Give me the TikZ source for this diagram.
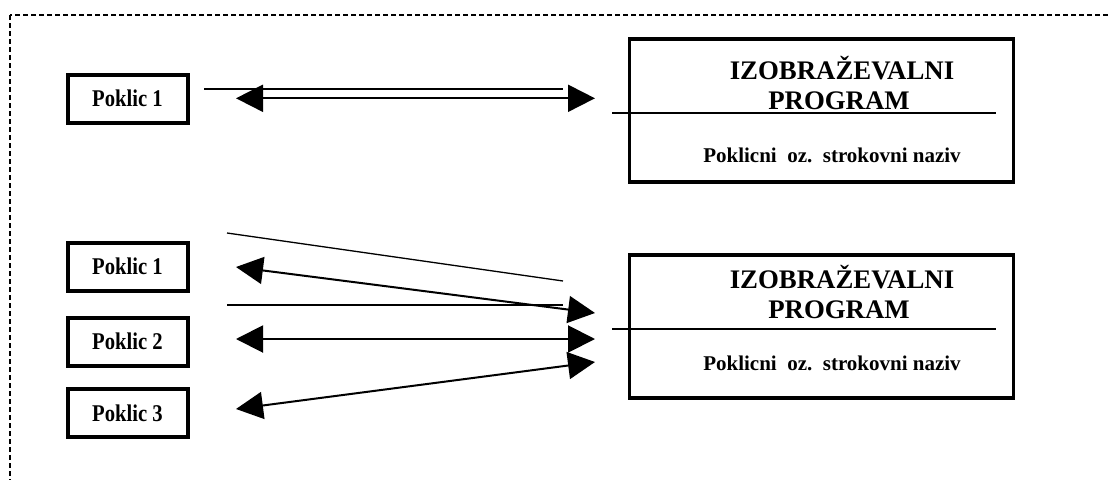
\documentclass[tikz,border=0pt]{standalone}
\usepackage{fontspec}
\setmainfont{Liberation Serif}
\newfontfamily\pkfont{Liberation Serif}[FakeStretch=0.86]
\usetikzlibrary{arrows.meta}
\begin{document}
\begin{tikzpicture}[x=1pt,y=-1pt,
  pbox/.style={draw, line width=4pt, minimum width=120pt, minimum height=48pt, inner sep=0pt, font=\pkfont\fontsize{24}{26}\selectfont\bfseries},
  bigbox/.style={draw, line width=3.3pt, minimum width=384pt, minimum height=143pt, inner sep=0pt},
  titletext/.style={font=\fontsize{26.8}{30}\selectfont\bfseries, inner sep=0pt, anchor=base},
  subtext/.style={font=\fontsize{21}{24}\selectfont\bfseries, inner sep=0pt, anchor=base},
  thinline/.style={line width=1.3pt},
  dblarrow/.style={line width=2pt, {Triangle[length=27pt,width=27pt]}-{Triangle[length=27pt,width=27pt]}},
  border/.style={line width=1.3pt, dash pattern=on 5pt off 3pt}
]
\useasboundingbox (0,0) rectangle (1110,479);
\clip (0,0) rectangle (1110,479);
\draw[border] (10,15) rectangle (1130,500);

% top group
\node[pbox] (p1a) at (127.5,98.5) {Poklic 1\hspace{9pt}};
\node[bigbox] (ba) at (821.5,110.5) {};
\node[titletext] (ta1) at (842,79) {IZOBRAŽEVALNI};
\node[titletext] (ta2) at (839,109) {PROGRAM};
\node[subtext] (ta3) at (832,162) {Poklicni\ \ oz.\ \ strokovni naziv};
\coordinate (la1) at (612,113);
\coordinate (la2) at (996,113);
\draw[thinline] (la1) -- (la2);
\coordinate (ta) at (204,89);
\coordinate (tb) at (563,89);
\draw[thinline] (ta) -- (tb);
\coordinate (aa) at (236,98.3);
\coordinate (ab) at (595,98.3);
\draw[dblarrow] (aa) -- (ab);

% bottom group
\node[pbox] (p1b) at (127.5,266.5) {Poklic 1\hspace{9pt}};
\node[pbox] (p2b) at (127.5,341.5) {Poklic 2\hspace{9pt}};
\node[pbox] (p3b) at (127.5,413) {Poklic 3\hspace{9pt}};
\node[bigbox] (bb) at (821.5,326.5) {};
\node[titletext] (tb1) at (842,288) {IZOBRAŽEVALNI};
\node[titletext] (tb2) at (839,318) {PROGRAM};
\node[subtext] (tb3) at (832,370) {Poklicni\ \ oz.\ \ strokovni naziv};
\coordinate (lb1) at (612,329);
\coordinate (lb2) at (996,329);
\draw[thinline] (lb1) -- (lb2);

\coordinate (s1a) at (227,233);
\coordinate (s1b) at (563,281);
\draw[thinline] (s1a) -- (s1b);
\coordinate (s2a) at (227,305);
\coordinate (s2b) at (563,305);
\draw[thinline] (s2a) -- (s2b);

\coordinate (b1l) at (236,267);
\coordinate (b1r) at (595,313);
\draw[dblarrow] (b1l) -- (b1r);
\coordinate (b2l) at (236,339);
\coordinate (b2r) at (595,339);
\draw[dblarrow] (b2l) -- (b2r);
\coordinate (b3l) at (236,409);
\coordinate (b3r) at (595,362);
\draw[dblarrow] (b3l) -- (b3r);
\end{tikzpicture}
\end{document}
